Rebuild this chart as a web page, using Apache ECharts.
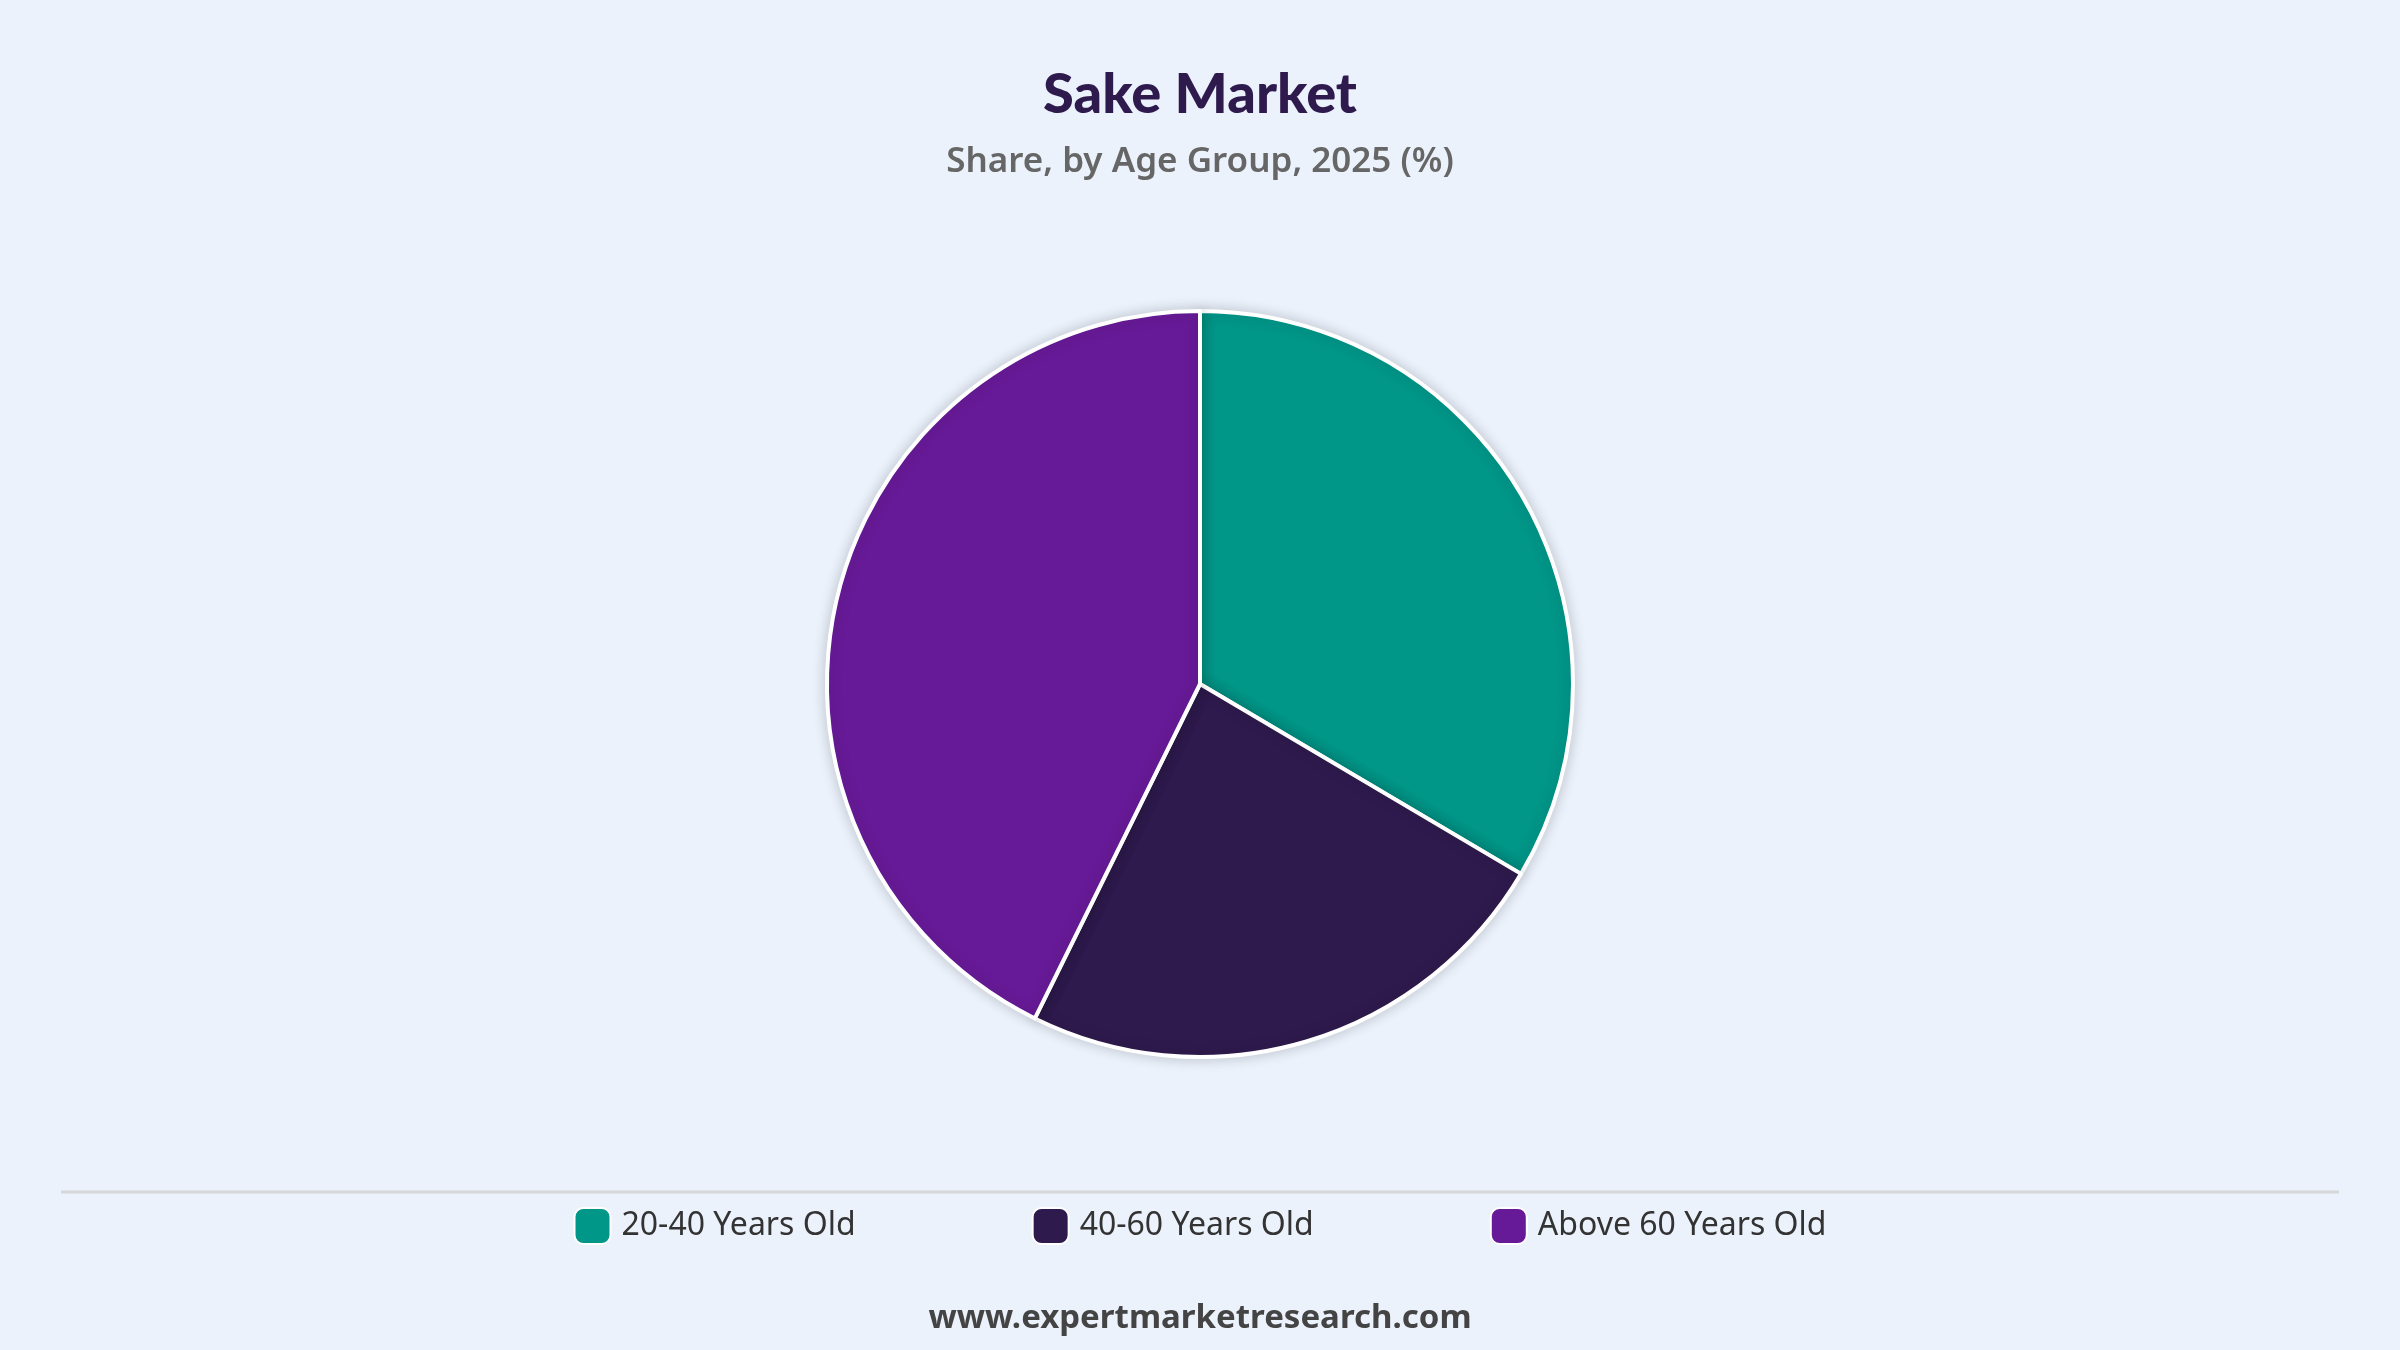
<!DOCTYPE html>
<html><head><meta charset="utf-8">
<script src="https://cdn.jsdelivr.net/npm/echarts@6/dist/echarts.min.js"></script>
<style>html,body{margin:0;padding:0;background:#EBF2FC;}#c{width:2400px;height:1350px;}</style>
</head><body><div id="c"></div>
<script>
const categories = ['20-40 Years Old', '40-60 Years Old', 'Above 60 Years Old'];
const values = [33.5, 23.8, 42.7];
const colors = ['#009688', '#2E1A4D', '#671A97'];
const chart = echarts.init(document.getElementById('c'));
chart.setOption({
  backgroundColor: '#EBF2FC',
  title: {
    text: 'Sake Market', subtext: 'Share, by Age Group, 2025 (%)', left: 'center', top: 62, itemGap: 22,
    textStyle: {fontFamily: 'Lato', fontWeight: 900, fontSize: 56, color: '#2E1A4D'},
    subtextStyle: {fontFamily: 'Noto Sans', fontWeight: 600, fontSize: 35, color: '#666'}
  },
  legend: {
    bottom: 100, left: 'center', itemGap: 176, itemWidth: 36, itemHeight: 36, icon: 'roundRect',
    textStyle: {fontFamily: 'Noto Sans', fontSize: 32, color: '#333', padding: [0, 0, 0, 6]},
    data: categories
  },
  graphic: [
    {type: 'line', shape: {x1: 61, y1: 1192, x2: 2339, y2: 1192}, style: {stroke: '#d8d8d8', lineWidth: 3}},
    {type: 'text', left: 'center', top: 1302, style: {text: 'www.expertmarketresearch.com', fontFamily: 'Noto Sans', fontWeight: 'bold', fontSize: 33, fill: '#444'}}
  ],
  series: [{
    type: 'pie', center: [1200, 684], radius: 373, startAngle: 90, clockwise: true,
    label: {show: false}, labelLine: {show: false},
    itemStyle: {borderColor: '#fff', borderWidth: 4, shadowBlur: 14, shadowColor: 'rgba(0,0,0,0.18)'},
    emphasis: {disabled: true},
    data: categories.map((n, i) => ({name: n, value: values[i], itemStyle: {color: colors[i]}}))
  }]
});
</script></body></html>
